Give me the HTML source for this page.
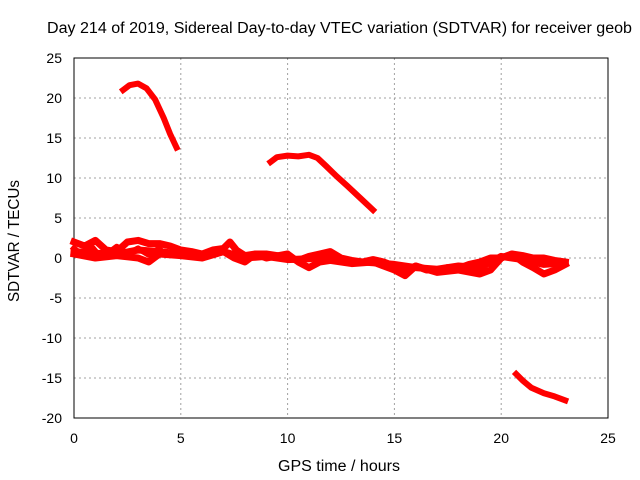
<!DOCTYPE html>
<html><head><meta charset="utf-8"><style>
body{margin:0;background:#fff;}
svg{display:block;font-family:"Liberation Sans",sans-serif;}
</style></head><body>
<svg id="chart" width="640" height="480"></svg>
<script>
const xTicks=[0,5,10,15,20,25];
const yTicks=[25,20,15,10,5,0,-5,-10,-15,-20];
const seg1X=[2.3,2.6,3.0,3.4,3.8,4.2,4.5,4.8];
const seg1Y=[21,21.6,21.8,21.2,19.8,17.5,15.5,13.8];
const seg2X=[9.2,9.5,10,10.5,11,11.4,11.8,12.3,12.8,13.4,14];
const seg2Y=[12,12.6,12.8,12.7,12.9,12.5,11.5,10.2,9,7.5,6];
const seg3X=[20.7,21,21.4,22,22.5,23];
const seg3Y=[-14.5,-15.3,-16.2,-16.9,-17.3,-17.8];
const segAX=[0,0.5,1,1.5,2,2.5,3,3.5,4,4.5,5,5.5,6,6.5,7,7.3,7.6,8,8.5,9,9.5,10,10.5,11,11.5,12,12.5,13,13.5,14,14.5,15,15.5,16,16.5,17,17.5,18,18.5,19,19.5,20,20.5,21,21.5,22,22.5,23];
const segAY=[2,1.5,2.2,1,0.8,2,2.2,1.8,1.8,1.5,1,0.8,0.5,1,1.2,2,1,0.3,0.5,0.5,0.3,0,-0.3,0.2,0.5,0.8,0,-0.3,-0.5,-0.2,-0.5,-1,-1.5,-1,-1.5,-1.5,-1.2,-1.3,-0.8,-0.5,0,0,0.5,0.3,0,0,-0.3,-0.5];
const segBX=[0,1,2,3,3.5,4,5,6,7,7.5,8,8.5,9,10,10.5,11,11.5,12,13,14,15,15.5,16,17,18,19,19.5,20,20.5,21,21.5,22,22.5,23];
const segBY=[0.5,0,0.3,0,-0.5,0.5,0.3,0,0.8,0,-0.5,0.5,0,0.5,-0.5,-1.2,-0.5,-0.3,-0.7,-0.5,-1.5,-2.2,-1,-1.8,-1.5,-2,-1.5,0,0.5,-0.5,-1.2,-2,-1.5,-0.8];
const segCX=[0,0.4,0.8,1.2,1.6,2,2.5,3,3.5,4];
const segCY=[1.2,0.3,1.5,0.2,0.6,1.4,0.5,1.2,0.4,1.2];
const segDX=[0,1,2,3,4,5,6,7,8,9,10,11,12,13,14,15,16,17,18,19,20,21,22,23];
const segDY=[0.8,0.6,0.5,1,0.8,0.5,0.3,0.8,0,0.2,-0.2,-0.1,0.2,-0.4,-0.6,-0.8,-1.2,-1.4,-1.0,-1.2,0.2,-0.2,-0.8,-0.6];

const NS="http://www.w3.org/2000/svg";
const svg=document.getElementById('chart');
const L=74,R=608,T=58,B=418;
const sx=v=>L+(v-0)/25*(R-L);
const sy=v=>B-(v+20)/45*(B-T);
function mk(tag,attrs,parent){const e=document.createElementNS(NS,tag);for(const k in attrs)e.setAttribute(k,attrs[k]);(parent||svg).appendChild(e);return e;}

xTicks.forEach(t=>{
  if(t>0&&t<25){const g=mk('line',{x1:sx(t),x2:sx(t),y1:T,y2:B,stroke:'#a0a0a0','stroke-dasharray':'2,3'});
  
  }
  const tx=mk('text',{x:sx(t),y:B+25,'text-anchor':'middle','font-size':14});
  tx.textContent=t;
  
  
});
yTicks.forEach(t=>{
  if(t<25&&t>-20){const g=mk('line',{x1:L,x2:R,y1:sy(t),y2:sy(t),stroke:'#a0a0a0','stroke-dasharray':'2,3'});
  
  }
  const tx=mk('text',{x:L-12,y:sy(t)+5,'text-anchor':'end','font-size':14});
  tx.textContent=t;
  
  
});
const frame=mk('rect',{x:L,y:T,width:R-L,height:B-T,fill:'none',stroke:'#000','stroke-width':1});



[[seg1X,seg1Y,6],[seg2X,seg2Y,6],[seg3X,seg3Y,6],[segAX,segAY,7],[segBX,segBY,7],[segCX,segCY,6],[segDX,segDY,7]].forEach(([xs,ys,w])=>{
  const pts=xs.map((x,i)=>sx(x)+','+sy(ys[i])).join(' ');
  const p=mk('polyline',{points:pts,fill:'none',stroke:'#ff0000','stroke-width':w,'stroke-linejoin':'round','stroke-linecap':'square'});
  
  
});

const title=mk('text',{x:47,y:33,'font-size':15.5,textLength:585,lengthAdjust:'spacingAndGlyphs'});
title.textContent='Day 214 of 2019, Sidereal Day-to-day VTEC variation (SDTVAR) for receiver geob';


const xl=mk('text',{x:278,y:471,'font-size':15.5,textLength:122,lengthAdjust:'spacingAndGlyphs'});
xl.textContent='GPS time / hours';


const yl=mk('text',{x:-302,y:19,'font-size':15.5,textLength:122,lengthAdjust:'spacingAndGlyphs',transform:'rotate(-90)'});
yl.textContent='SDTVAR / TECUs';


</script>
</body></html>
